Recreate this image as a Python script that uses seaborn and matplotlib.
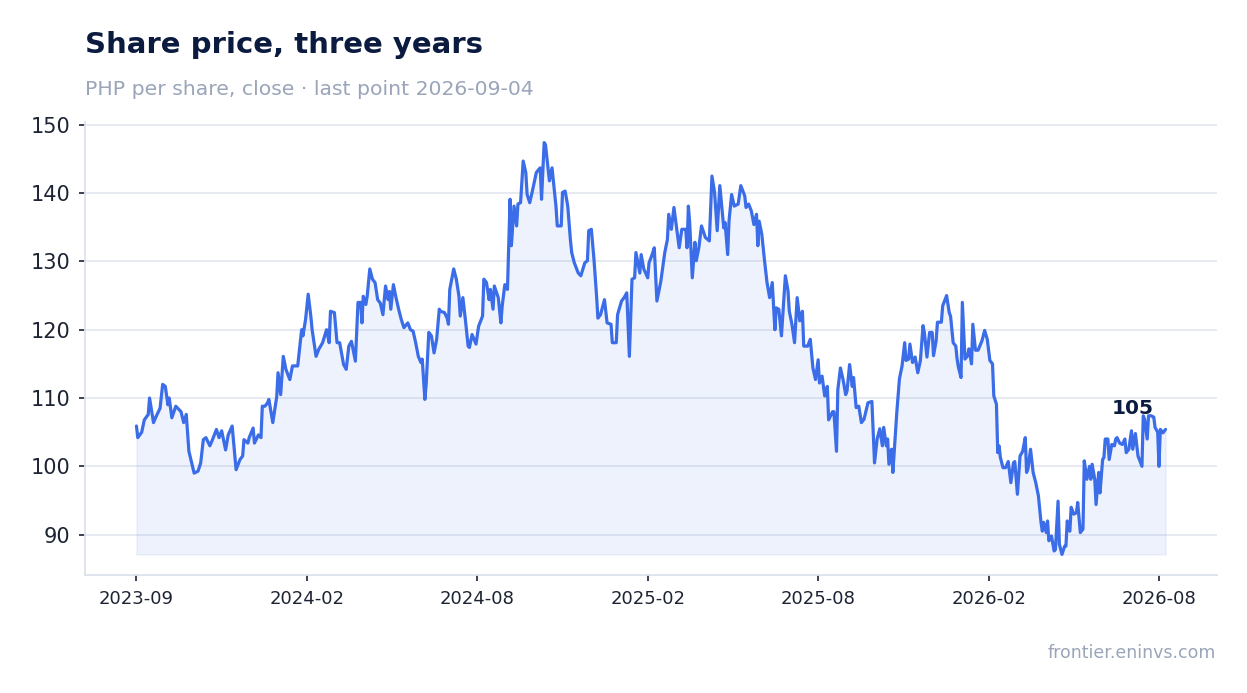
import matplotlib
matplotlib.use("Agg")
import matplotlib.pyplot as plt
import seaborn as sns
import pandas as pd

# trading session number (0 = first close) and close price
session = [
    0, 1, 4, 6, 9, 10, 13, 15, 18, 20, 22, 24, 25, 27, 30, 34, 36, 38, 40, 44,
    47, 49, 51, 53, 56, 58, 61, 63, 65, 68, 70, 73, 76, 79, 81, 82, 85, 86, 89, 90,
    93, 95, 96, 98, 100, 101, 104, 107, 108, 110, 112, 114, 117, 119, 123, 126, 127, 129, 131, 133,
    134, 137, 139, 142, 145, 147, 148, 151, 153, 155, 158, 160, 162, 164, 167, 169, 171, 172, 173, 175,
    176, 178, 180, 182, 184, 186, 188, 190, 192, 193, 194, 196, 198, 200, 202, 204, 207, 209, 211, 213,
    215, 217, 218, 220, 221, 223, 225, 227, 229, 231, 232, 235, 237, 238, 239, 242, 244, 246, 247, 249,
    251, 253, 254, 256, 259, 261, 264, 265, 267, 269, 270, 272, 273, 276, 278, 279, 281, 283, 285, 286,
    288, 290, 291, 293, 295, 297, 298, 300, 302, 305, 307, 308, 309, 311, 312, 315, 317, 320, 321, 324,
    325, 327, 329, 331, 332, 334, 337, 339, 342, 344, 345, 347, 349, 351, 352, 354, 356, 357, 359, 362,
    363, 366, 367, 370, 372, 374, 376, 378, 380, 381, 384, 385, 387, 390, 391, 393, 395, 397, 400, 403,
    405, 406, 408, 410, 412, 414, 416, 419, 420, 421, 422, 424, 426, 427, 429, 431, 434, 437, 439, 441,
    443, 445, 448, 449, 451, 452, 454, 456, 459, 461, 464, 465, 467, 469, 471, 473, 474, 475, 477, 479,
    481, 483, 485, 487, 488, 490, 492, 495, 497, 498, 500, 502, 504, 506, 508, 509, 512, 514, 516, 518,
    520, 521, 523, 525, 527, 528, 531, 532, 534, 535, 537, 539, 541, 542, 544, 546, 547, 549, 551, 553,
    555, 558, 561, 563, 565, 567, 569, 570, 572, 573, 574, 576, 577, 579, 580, 582, 584, 586, 587, 589,
    590, 592, 594, 596, 598, 600, 601, 603, 605, 607, 608, 610, 611, 614, 615, 618, 620, 621, 623, 625,
    626, 627, 629, 630, 632, 634, 635, 637, 638, 640, 642, 645, 647, 649, 651, 653, 654, 656, 657, 658,
    659, 661, 663, 665, 667, 669, 670, 672, 674, 676, 678, 679, 680, 682, 684, 686, 688, 690, 691, 692,
    694, 695, 696, 698, 700, 701, 703, 704, 706, 708, 709, 710, 712, 713, 715, 717, 718, 720, 722, 723,
    725, 727, 728, 729, 731, 732, 734, 735, 737, 738, 739, 741, 742, 744, 746, 747, 748, 750, 752, 754,
    755, 757, 759, 760, 762, 764, 767, 768, 769, 771, 772, 774, 776, 777, 779, 780, 781, 783, 785,
]
close = [
    105.9, 104.2, 105.0, 106.8, 107.6, 110.0, 106.4, 107.3, 108.5, 112.0, 111.7, 109.0, 110.0, 107.1, 108.8, 108.0, 106.4, 107.6, 102.2, 99.0,
    99.3, 100.5, 103.9, 104.2, 103.0, 103.9, 105.4, 104.2, 105.2, 102.4, 104.6, 105.9, 99.5, 101.0, 101.5, 103.9, 103.4, 104.2, 105.6, 103.4,
    104.6, 104.2, 108.8, 108.8, 109.3, 109.8, 106.4, 110.2, 113.7, 110.5, 116.1, 114.2, 112.7, 114.7, 114.7, 120.0, 119.1, 121.5, 125.2, 122.0,
    120.0, 116.1, 117.1, 118.1, 120.0, 118.1, 122.7, 122.5, 118.1, 118.1, 114.9, 114.2, 117.6, 118.3, 115.4, 124.0, 124.0, 121.0, 124.9, 123.7,
    124.9, 128.9, 127.4, 126.9, 124.4, 123.9, 122.2, 126.4, 124.4, 125.6, 123.0, 126.6, 124.7, 123.0, 121.5, 120.3, 121.0, 120.0, 119.8, 118.1,
    116.1, 115.2, 115.7, 109.8, 112.0, 119.6, 119.1, 116.6, 118.6, 123.0, 122.7, 122.5, 121.7, 120.8, 125.9, 128.9, 127.4, 124.9, 122.0, 124.7,
    121.3, 117.6, 117.4, 119.3, 117.9, 120.5, 122.0, 127.4, 126.9, 124.4, 125.9, 123.0, 126.4, 124.7, 121.0, 123.5, 126.6, 125.9, 139.1, 132.3,
    138.1, 135.2, 138.4, 138.6, 144.7, 143.0, 139.8, 138.6, 140.3, 143.0, 143.5, 143.7, 139.1, 147.4, 147.1, 141.8, 143.7, 138.1, 135.2, 135.2,
    140.1, 140.3, 138.1, 133.2, 131.3, 129.8, 128.3, 127.9, 129.8, 130.1, 134.5, 134.7, 130.3, 124.9, 121.7, 122.2, 123.7, 124.4, 121.0, 120.8,
    118.1, 118.1, 122.2, 124.2, 124.7, 125.4, 116.1, 127.4, 127.6, 131.3, 128.3, 131.0, 128.9, 127.6, 129.8, 130.8, 132.0, 124.2, 127.1, 131.3,
    133.2, 136.9, 134.7, 137.9, 134.9, 132.0, 134.7, 134.7, 132.0, 138.1, 135.7, 127.6, 132.8, 130.1, 132.0, 135.2, 133.5, 133.0, 142.5, 140.1,
    134.5, 141.1, 134.9, 135.7, 131.0, 135.9, 139.8, 138.1, 138.4, 141.1, 139.6, 137.9, 138.4, 137.4, 135.4, 136.9, 132.3, 135.9, 134.0, 130.3,
    126.9, 124.7, 126.9, 120.0, 123.2, 123.0, 119.1, 127.9, 125.7, 122.7, 120.8, 118.1, 124.7, 121.3, 122.7, 117.6, 117.6, 118.6, 114.4, 112.7,
    115.6, 112.2, 113.2, 110.3, 111.7, 106.8, 108.0, 108.0, 102.2, 111.2, 114.4, 112.7, 110.5, 111.0, 114.9, 111.7, 113.0, 108.6, 108.8, 106.4,
    106.9, 109.3, 109.5, 100.5, 104.0, 105.5, 103.0, 105.7, 103.0, 104.0, 100.3, 102.5, 99.1, 105.0, 107.9, 112.8, 114.7, 118.1, 115.5, 115.7,
    117.9, 115.2, 116.0, 113.7, 115.5, 120.6, 119.6, 116.0, 119.6, 119.6, 116.2, 118.4, 121.1, 121.1, 123.5, 125.0, 122.5, 122.0, 118.1, 117.6,
    115.7, 114.5, 113.0, 124.0, 115.7, 116.2, 117.2, 115.0, 120.8, 117.0, 117.0, 118.4, 119.9, 118.6, 115.5, 115.0, 110.3, 109.1, 102.0, 103.0,
    101.3, 99.8, 99.8, 100.7, 97.6, 100.5, 100.7, 95.9, 101.5, 102.2, 104.2, 99.1, 99.6, 102.5, 99.1, 97.6, 95.7, 91.8, 90.5, 91.8,
    90.3, 92.0, 89.1, 89.8, 87.6, 87.8, 94.9, 88.6, 87.1, 88.3, 88.3, 92.0, 90.5, 94.0, 93.0, 93.2, 94.7, 90.3, 90.8, 100.8,
    98.1, 100.0, 98.1, 100.3, 98.1, 94.4, 99.1, 96.1, 101.0, 101.3, 104.0, 104.0, 101.0, 103.2, 103.0, 104.0, 104.2, 103.4, 103.2, 104.0,
    102.0, 102.5, 105.2, 102.5, 104.8, 101.5, 100.0, 107.4, 106.9, 104.0, 107.4, 107.4, 107.2, 105.7, 105.0, 100.0, 105.4, 104.9, 105.4,
]

tick_sessions = [0, 130, 260, 390, 520, 650, 780]
tick_labels = ['2023-09', '2024-02', '2024-08', '2025-02', '2025-08', '2026-02', '2026-08']
y_ticks = [90, 100, 110, 120, 130, 140, 150]

df = pd.DataFrame({'session': session, 'close': close})

sns.set_theme(style='white')
plt.rcParams['font.family'] = ['DejaVu Sans']

line_color = '#3b6de8'
ink = '#1c2333'

fig = plt.figure(figsize=(12.47, 6.93), dpi=100)
ax = fig.add_axes([85 / 1247, 1 - 575 / 693, (1217 - 85) / 1247, (575 - 122) / 693])

sns.lineplot(data=df, x='session', y='close', color=line_color, linewidth=2.3, ax=ax)
ax.fill_between(df['session'], df['close'], df['close'].min(),
                color=line_color, alpha=0.085, linewidth=1)

ax.set_xticks(tick_sessions)
ax.set_xticklabels(tick_labels)
ax.set_yticks(y_ticks)
ax.set_xlabel('')
ax.set_ylabel('')

ax.grid(axis='y', color='#e3e7ef', linewidth=1.2)
ax.grid(axis='x', visible=False)
ax.set_axisbelow(True)
for side in ['top', 'right']:
    ax.spines[side].set_visible(False)
for side in ['left', 'bottom']:
    ax.spines[side].set_color('#dde2ea')
    ax.spines[side].set_linewidth(1.3)

ax.tick_params(axis='x', bottom=True, labelsize=13, labelcolor=ink, length=4.5,
               width=1.4, pad=6, color='#3a4152')
ax.tick_params(axis='y', left=True, labelsize=15, labelcolor=ink, length=4,
               width=1.4, pad=6.5, color='#3a4152')

ax.annotate(f"{close[-1]:.0f}", xy=(session[-1], close[-1]), xytext=(-24, 15),
            textcoords='offset points', ha='center', va='center',
            fontsize=14.5, fontweight='bold', color='#0b1a3f')

fig.text(85 / 1247, 1 - 53 / 693, 'Share price, three years', fontsize=21,
         fontweight='bold', color='#0b1a3f', va='baseline', ha='left')
fig.text(85 / 1247, 1 - 95 / 693, 'PHP per share, close · last point 2026-09-04',
         fontsize=14.7, color='#9aa5b9', va='baseline', ha='left')
fig.text(1216 / 1247, 1 - 658 / 693, 'frontier.eninvs.com', fontsize=12.5,
         color='#9aa5b9', va='baseline', ha='right')

fig.savefig('out.png', dpi=100)
